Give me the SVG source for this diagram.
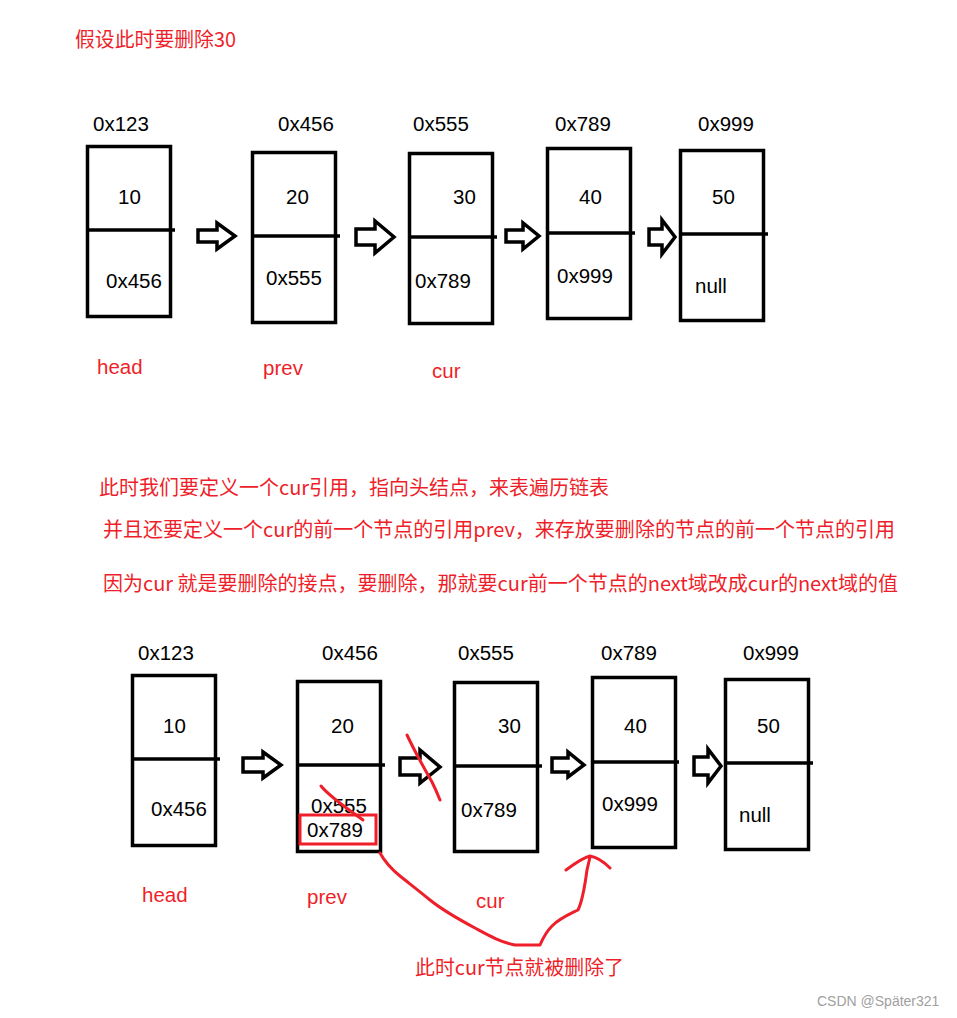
<svg xmlns="http://www.w3.org/2000/svg" width="957" height="1018" viewBox="0 0 957 1018">
<style>
.box{fill:none;stroke:#000;stroke-width:3.5}
.div{stroke:#000;stroke-width:3.5}
.arr{fill:#fff;stroke:#000;stroke-width:3.5;stroke-linejoin:miter}
.t{font-family:"Liberation Sans",Arial,sans-serif;font-size:20.5px;fill:#000}
.r{font-family:"Liberation Sans",Arial,sans-serif;font-size:20.5px;fill:#ee1f2a}
.cn{font-family:"Noto Sans CJK SC","Liberation Sans",sans-serif;font-size:20px;fill:#ee1f2a}
.ink{fill:none;stroke:#ee1f2a;stroke-width:3;stroke-linecap:round;stroke-linejoin:round}
.wm{font-family:"Liberation Sans",Arial,sans-serif;font-size:14px;fill:#a0a0a0}
</style>
<rect width="957" height="1018" fill="#fff"/>

<text class="cn" x="75" y="47" textLength="161" lengthAdjust="spacingAndGlyphs">假设此时要删除30</text>

<!-- top row -->
<g id="t-node1">
<rect class="box" x="87.5" y="146.5" width="83" height="170"/>
<line class="div" x1="87" y1="230" x2="175" y2="230"/>
<text class="t" x="93" y="131">0x123</text>
<text class="t" x="118" y="204">10</text>
<text class="t" x="106" y="288">0x456</text>
<text class="r" x="97" y="374">head</text>
</g>
<g id="t-node2">
<rect class="box" x="252.5" y="152.5" width="83" height="170"/>
<line class="div" x1="252" y1="236" x2="340" y2="236"/>
<text class="t" x="278" y="131">0x456</text>
<text class="t" x="286" y="204">20</text>
<text class="t" x="266" y="285">0x555</text>
<text class="r" x="263" y="375">prev</text>
</g>
<g id="t-node3">
<rect class="box" x="409.5" y="153.5" width="83" height="170"/>
<line class="div" x1="409" y1="237" x2="497" y2="237"/>
<text class="t" x="413" y="131">0x555</text>
<text class="t" x="453" y="204">30</text>
<text class="t" x="415" y="288">0x789</text>
<text class="r" x="432" y="378">cur</text>
</g>
<g id="t-node4">
<rect class="box" x="547.5" y="148.5" width="83" height="170"/>
<line class="div" x1="547" y1="233" x2="635" y2="233"/>
<text class="t" x="555" y="131">0x789</text>
<text class="t" x="579" y="204">40</text>
<text class="t" x="557" y="283">0x999</text>
</g>
<g id="t-node5">
<rect class="box" x="680.5" y="150.5" width="83" height="170"/>
<line class="div" x1="680" y1="234" x2="768" y2="234"/>
<text class="t" x="698" y="131">0x999</text>
<text class="t" x="712" y="204">50</text>
<text class="t" x="695" y="293">null</text>
</g>

<g id="top-connectors">
<polygon class="arr" points="198,230 217,230 217,223 235,236 217,249 217,242 198,242"/>
<polygon class="arr" points="356,229 375,229 375,221 394,237 375,253 375,245 356,245"/>
<polygon class="arr" points="506,230 523,230 523,223 539,236 523,249 523,242 506,242"/>
<polygon class="arr" points="649,229 662,229 662,220 675,237 662,254 662,245 649,245"/>
</g>

<text class="cn" x="99" y="495" textLength="510" lengthAdjust="spacingAndGlyphs">此时我们要定义一个cur引用，指向头结点，来表遍历链表</text>
<text class="cn" x="103" y="537" textLength="792" lengthAdjust="spacingAndGlyphs">并且还要定义一个cur的前一个节点的引用prev，来存放要删除的节点的前一个节点的引用</text>
<text class="cn" x="103" y="591" textLength="795" lengthAdjust="spacingAndGlyphs">因为cur 就是要删除的接点，要删除，那就要cur前一个节点的next域改成cur的next域的值</text>

<!-- bottom row -->
<g id="b-node1">
<rect class="box" x="132.5" y="675.5" width="83" height="170"/>
<line class="div" x1="132" y1="759" x2="220" y2="759"/>
<text class="t" x="138" y="660">0x123</text>
<text class="t" x="163" y="733">10</text>
<text class="t" x="151" y="816">0x456</text>
<text class="r" x="142" y="902">head</text>
</g>
<g id="b-node2">
<rect class="box" x="297.5" y="681.5" width="83" height="170"/>
<line class="div" x1="297" y1="765" x2="385" y2="765"/>
<text class="t" x="322" y="660">0x456</text>
<text class="t" x="331" y="733">20</text>
<text class="t" x="311" y="813">0x555</text>
<text class="t" x="307" y="837">0x789</text>
<rect x="300" y="815" width="76" height="29" fill="none" stroke="#ee1f2a" stroke-width="3"/>
<text class="r" x="307" y="904">prev</text>
</g>
<g id="b-node3">
<rect class="box" x="454.5" y="682.5" width="83" height="169"/>
<line class="div" x1="454" y1="766" x2="542" y2="766"/>
<text class="t" x="458" y="660">0x555</text>
<text class="t" x="498" y="733">30</text>
<text class="t" x="461" y="817">0x789</text>
<text class="r" x="476" y="908">cur</text>
</g>
<g id="b-node4">
<rect class="box" x="592.5" y="677.5" width="83" height="170"/>
<line class="div" x1="592" y1="762" x2="679" y2="762"/>
<text class="t" x="601" y="660">0x789</text>
<text class="t" x="624" y="733">40</text>
<text class="t" x="602" y="811">0x999</text>
</g>
<g id="b-node5">
<rect class="box" x="725.5" y="679.5" width="83" height="170"/>
<line class="div" x1="725" y1="763" x2="813" y2="763"/>
<text class="t" x="743" y="660">0x999</text>
<text class="t" x="757" y="733">50</text>
<text class="t" x="739" y="822">null</text>
</g>

<g id="bottom-connectors">
<polygon class="arr" points="243,758 263,758 263,752 281,765 263,778 263,772 243,772"/>
<polygon class="arr" points="400,758 420,758 420,750 440,767 420,783 420,775 400,775"/>
<polygon class="arr" points="552,758 568,758 568,752 584,765 568,777 568,772 552,772"/>
<polygon class="arr" points="694,757 708,757 708,749 721,766 708,783 708,775 694,775"/>
<!-- red hand-drawn marks -->
<path class="ink" d="M407,735 C415,752 424,768 432,782 C436,790 438,795 440,800"/>
<path class="ink" d="M321,786 C330,797 345,807 363,820"/>
<path class="ink" d="M380,853 C385,862 390,868 400,876 C410,884 418,890 430,900 C445,912 460,920 475,928 C488,935 500,942 515,945 L540,945 C543,938 546,932 552,926 C560,918 570,914 578,910 C583,900 585,885 587,870 L590,857 M566,870 C574,864 582,858 590,856 C596,857 604,862 610,868"/>
</g>

<text class="cn" x="415" y="975" textLength="209" lengthAdjust="spacingAndGlyphs">此时cur节点就被删除了</text>
<text class="wm" x="817" y="1006">CSDN @Später321</text>
</svg>
